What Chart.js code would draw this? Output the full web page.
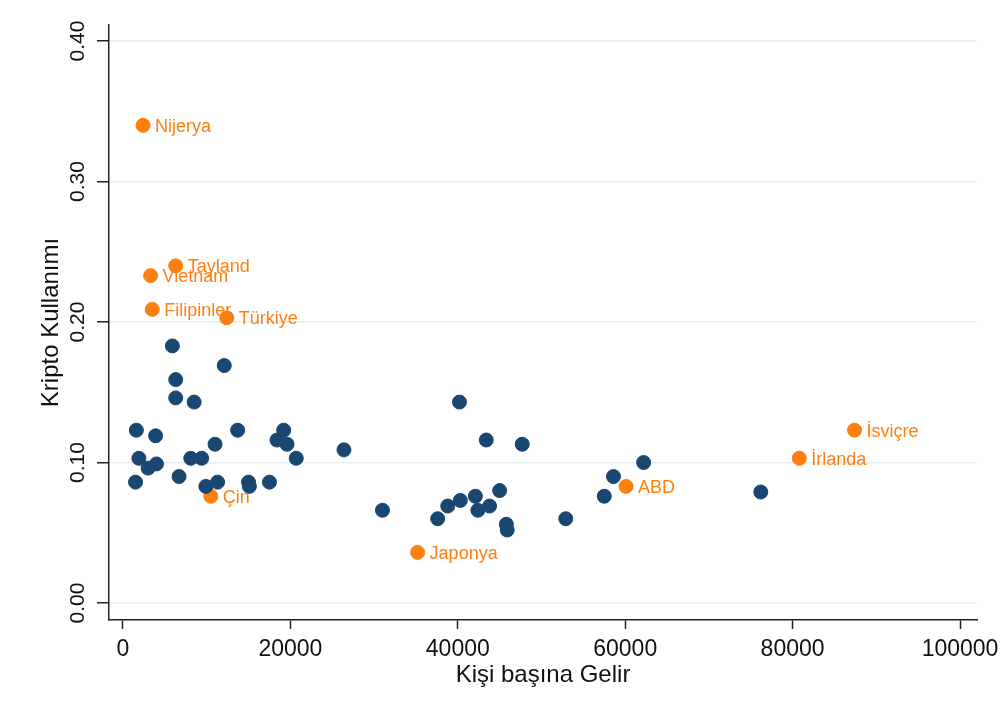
<!DOCTYPE html>
<html lang="tr">
<head>
<meta charset="utf-8">
<title>Kripto Kullanımı - Kişi başına Gelir</title>
<script src="https://cdn.jsdelivr.net/npm/chart.js@4/dist/chart.umd.min.js"></script>
<style>
  html, body { margin: 0; padding: 0; background: #fff; }
  #wrap { width: 1005px; height: 717px; }
</style>
</head>
<body>
<div id="wrap"><canvas id="chart" width="1005" height="717"></canvas></div>
<script>
// veri: kişi başına gelir (x) ve kripto kullanımı (y)
var otherIncome = [5900, 12100, 6300, 6300, 8500, 1600, 3900, 13700, 19200, 18400,
  19600, 11000, 26400, 20700, 1900, 4000, 3000, 8100, 9400, 6700,
  1500, 9900, 11300, 15000, 15100, 17500, 31000, 40200, 43400, 47700,
  45000, 42100, 40300, 38800, 42400, 43800, 37600, 45800, 45900, 52900,
  62200, 58600, 57500, 76200];
var otherUse = [0.183, 0.169, 0.159, 0.146, 0.143, 0.123, 0.119, 0.123, 0.123, 0.116,
  0.113, 0.113, 0.109, 0.103, 0.103, 0.099, 0.096, 0.103, 0.103, 0.090,
  0.086, 0.083, 0.086, 0.086, 0.083, 0.086, 0.066, 0.143, 0.116, 0.113,
  0.080, 0.076, 0.073, 0.069, 0.066, 0.069, 0.060, 0.056, 0.052, 0.060,
  0.100, 0.090, 0.076, 0.079];

var labelNames = ["Nijerya", "Tayland", "Vietnam", "Filipinler", "Türkiye",
  "Çin", "Japonya", "ABD", "İrlanda", "İsviçre"];
var labelIncome = [2400, 6300, 3300, 3500, 12400, 10500, 35200, 60100, 80800, 87400];
var labelUse = [0.340, 0.240, 0.233, 0.209, 0.203, 0.076, 0.036, 0.083, 0.103, 0.123];

var xTicks = [0, 20000, 40000, 60000, 80000, 100000];
var yTicks = [0, 0.1, 0.2, 0.3, 0.4];

var NAVY = "#1a476f";
var ORANGE = "#ff7f0e";
var FONT = "'Liberation Sans', Arial, sans-serif";

function toPoints(xs, ys) {
  return xs.map(function (x, i) {
    return { x: x, y: ys[i] };
  });
}

// ülke adlarını turuncu noktaların sağına yaz
var pointLabels = {
  id: "pointLabels",
  afterDatasetsDraw: function (chart) {
    var meta = chart.getDatasetMeta(1);
    var ctx = chart.ctx;
    ctx.save();
    ctx.font = "18px " + FONT;
    ctx.fillStyle = ORANGE;
    ctx.textAlign = "left";
    ctx.textBaseline = "alphabetic";
    meta.data.forEach(function (el, i) {
      ctx.fillText(labelNames[i], el.x + 12, el.y + 6.5);
    });
    ctx.restore();
  }
};

new Chart(document.getElementById("chart"), {
  type: "scatter",
  data: {
    datasets: [
      {
        data: toPoints(otherIncome, otherUse),
        backgroundColor: NAVY,
        borderColor: NAVY,
        borderWidth: 1,
        pointRadius: 7,
        pointHoverRadius: 7
      },
      {
        data: toPoints(labelIncome, labelUse),
        backgroundColor: ORANGE,
        borderColor: ORANGE,
        borderWidth: 1,
        pointRadius: 7,
        pointHoverRadius: 7
      }
    ]
  },
  options: {
    responsive: false,
    animation: false,
    layout: { padding: { top: 25, right: 28, left: 0, bottom: 0 } },
    plugins: {
      legend: { display: false },
      tooltip: { enabled: false }
    },
    scales: {
      x: {
        type: "linear",
        min: -1670,
        max: 102030,
        afterBuildTicks: function (s) {
          s.ticks = xTicks.map(function (v) { return { value: v }; });
        },
        afterFit: function (s) {
          s.height = 97;
          s.paddingLeft = 0;
          s.paddingRight = 0;
        },
        border: { color: "#222", width: 1.5 },
        grid: {
          drawOnChartArea: false,
          tickLength: 9,
          tickColor: "#222",
          tickWidth: 1.5
        },
        ticks: {
          padding: 6.7,
          color: "#111",
          font: { family: FONT, size: 23 },
          maxRotation: 0,
          callback: function (v) { return String(v); }
        },
        title: {
          display: true,
          text: "Kişi başına Gelir",
          color: "#111",
          font: { family: FONT, size: 24 },
          padding: { top: 0, bottom: 27.6 }
        }
      },
      y: {
        type: "linear",
        min: -0.0121,
        max: 0.4114,
        afterBuildTicks: function (s) {
          s.ticks = yTicks.map(function (v) { return { value: v }; });
        },
        afterFit: function (s) {
          s.width = 109;
          s.paddingTop = 0;
          s.paddingBottom = 0;
        },
        border: { color: "#222", width: 1.5 },
        grid: {
          color: "#e4edf1",
          lineWidth: 1.5,
          tickLength: 12,
          tickColor: "#222",
          tickWidth: 1.5
        },
        ticks: {
          padding: -2,
          crossAlign: "center",
          minRotation: 90,
          maxRotation: 90,
          color: "#111",
          font: { family: FONT, size: 21 },
          callback: function (v) { return v.toFixed(2); }
        },
        title: {
          display: true,
          text: "Kripto Kullanımı",
          color: "#111",
          font: { family: FONT, size: 24 },
          padding: { top: 37, bottom: 0 }
        }
      }
    }
  },
  plugins: [pointLabels]
});
</script>
</body>
</html>
